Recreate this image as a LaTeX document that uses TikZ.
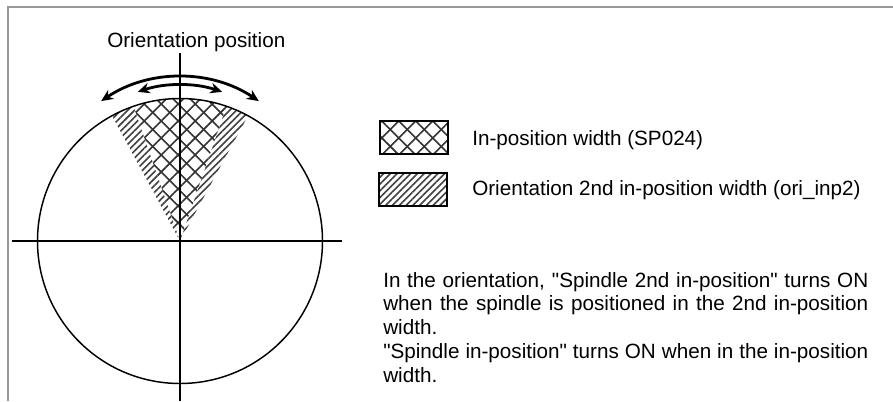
\documentclass[tikz,border=0pt]{standalone}
\usepackage{fontspec}
\setmainfont{Liberation Sans}
\usetikzlibrary{arrows.meta,patterns.meta}
\setlength{\parindent}{0pt}
\newcommand{\qt}{\textquotedbl}
\tikzset{
  frameline/.style={draw=black!40,line width=1.4pt},
  rim/.style={draw=black,line width=1.1pt},
  axisline/.style={draw=black,line width=1.1pt},
  swing/.style={{Stealth[length=9pt,width=8pt]}-{Stealth[length=9pt,width=8pt]},line width=2.1pt},
  densehatch/.style={pattern={Lines[angle=45,distance=3.6pt,line width=1.2pt]},pattern color=black!75},
  crossA/.style={pattern={Lines[angle=45,distance=9pt,line width=1.2pt]},pattern color=black!80},
  crossB/.style={pattern={Lines[angle=-45,distance=9pt,line width=1.2pt]},pattern color=black!80},
  keybox/.style={draw=black,line width=1.1pt},
  keytext/.style={anchor=west,inner sep=0pt},
}
\begin{document}
\begin{tikzpicture}[x=0.75pt,y=-0.75pt,font=\fontsize{15.5}{17.8}\selectfont]
  \useasboundingbox (0,0) rectangle (893,401);
  % frame
  \draw[frameline] (8,401) -- (8,7) -- (893,7);
  \coordinate (O) at (180,241);
  % wedges
  \fill[densehatch] (O) -- ++(-61.5:142.5) arc[start angle=-61.5,end angle=-118.5,radius=142.5] -- cycle;
  \fill[white] (O) -- ++(-71:142.5) arc[start angle=-71,end angle=-109,radius=142.5] -- cycle;
  \fill[crossA] (O) -- ++(-71:142.5) arc[start angle=-71,end angle=-109,radius=142.5] -- cycle;
  \fill[crossB] (O) -- ++(-71:142.5) arc[start angle=-71,end angle=-109,radius=142.5] -- cycle;
  \draw[rim] (O) circle[radius=142.5];
  \draw[axisline] (12,241) -- (342,241);
  \draw[axisline] (180,53) -- (180,401);
  \node[anchor=base west,inner sep=0pt] (title) at (107,47) {Orientation position};
  % swing arrows
  \coordinate (A) at (180,218);
  \draw[swing] ([shift={(-56:141)}]A) arc[start angle=-56,end angle=-124,radius=141];
  \draw[swing] ([shift={(-71.5:133)}]A) arc[start angle=-71.5,end angle=-108.5,radius=133];
  % legend
  \fill[crossA] (380,121) rectangle (448,154);
  \fill[crossB] (380,121) rectangle (448,154);
  \draw[keybox] (380,121) rectangle (448,154);
  \node[keytext] (k1) at (472,140) {In-position width (SP024)};
  \fill[densehatch] (379,173) rectangle (447,206);
  \draw[keybox] (379,173) rectangle (447,206);
  \node[keytext] (k2) at (472,190) {Orientation 2nd in-position width (ori\_inp2)};
  % note
  \node[anchor=north west,inner sep=0pt,text width=363.75pt,align=justify] (note) at (383,272)
    {\hyphenpenalty=10000
     In the orientation, \qt Spindle 2nd in-position\qt{} turns ON\linebreak
     when the spindle is positioned in the 2nd in-position\linebreak
     width.\par
     \qt Spindle in-position\qt{} turns ON when in the in-position\linebreak
     width.};
\end{tikzpicture}
\end{document}
